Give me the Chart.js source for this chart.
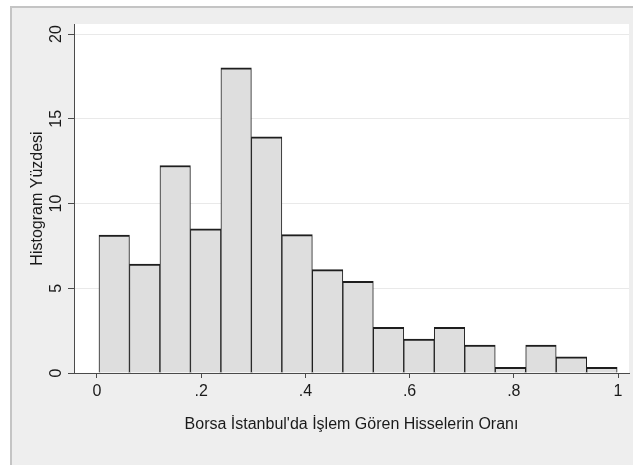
<!DOCTYPE html>
<html>
<head>
<meta charset="utf-8">
<script src="https://cdn.jsdelivr.net/npm/chart.js@4.4.1/dist/chart.umd.min.js"></script>
<style>
  html, body { margin: 0; padding: 0; background: #ffffff; }
  #wrap { width: 633px; height: 465px; }
</style>
</head>
<body>
<div id="wrap"><canvas id="histChart" width="633" height="465"></canvas></div>
<script>
// Histogram data (percent per bin)
const binStart = 0.0038;
const binWidth = 0.0585;
const percents = [8.14, 6.43, 12.24, 8.51, 18.0, 13.94, 8.16, 6.1, 5.41, 2.69, 2.0, 2.69, 1.65, 0.33, 1.65, 0.96, 0.33];
const binCenters = [0.0331, 0.0916, 0.1501, 0.2086, 0.2671, 0.3256, 0.3841, 0.4426, 0.5011, 0.5596, 0.6181, 0.6766, 0.7351, 0.7936, 0.8521, 0.9106, 0.9691];

const xTicks = [0, 0.2, 0.4, 0.6, 0.8, 1];
const xTickLabels = ["0", ".2", ".4", ".6", ".8", "1"];
const yTicks = [0, 5, 10, 15, 20];
const yTickLabels = ["0", "5", "10", "15", "20"];

const xTitle = "Borsa İstanbul'da İşlem Gören Hisselerin Oranı";
const yTitle = "Histogram Yüzdesi";

const FONT = "'Liberation Sans', Arial, sans-serif";
const TEXT_COLOR = "#1a1a1a";
const AXIS_COLOR = "#4a4a4a";

// Stata style background: grey graph region, white plot region
const backgroundPlugin = {
  id: "stataBackground",
  beforeDraw(chart) {
    const { ctx, chartArea, width, height } = chart;
    ctx.save();
    ctx.fillStyle = "#ffffff";
    ctx.fillRect(0, 0, width, height);
    ctx.fillStyle = "#eeeeee";
    ctx.fillRect(11, 7, width - 11, height - 7);
    ctx.strokeStyle = "#c4c4c4";
    ctx.lineWidth = 2;
    ctx.beginPath();
    ctx.moveTo(11, height);
    ctx.lineTo(11, 7);
    ctx.lineTo(width, 7);
    ctx.stroke();
    ctx.fillStyle = "#ffffff";
    ctx.fillRect(chartArea.left, chartArea.top, chartArea.right - chartArea.left, chartArea.bottom - chartArea.top);
    ctx.restore();
  },
};

// vertical y tick labels (read bottom to top)
const yLabelPlugin = {
  id: "yLabels",
  afterDraw(chart) {
    const { ctx } = chart;
    const yScale = chart.scales.y;
    ctx.save();
    ctx.fillStyle = TEXT_COLOR;
    ctx.font = "16px " + FONT;
    ctx.textAlign = "center";
    ctx.textBaseline = "alphabetic";
    yTicks.forEach((v, i) => {
      const py = yScale.getPixelForValue(v);
      ctx.save();
      ctx.translate(61, py);
      ctx.rotate(-Math.PI / 2);
      ctx.fillText(yTickLabels[i], 0, 0);
      ctx.restore();
    });
    ctx.restore();
  },
};

const ctx = document.getElementById("histChart");

new Chart(ctx, {
  type: "bar",
  data: {
    datasets: [
      {
        data: binCenters.map((x, i) => ({ x: x, y: percents[i] })),
        backgroundColor: "#dedede",
        borderColor: "#1e1e1e",
        borderWidth: { top: 2, left: 1, right: 1, bottom: 0 },
        borderSkipped: false,
        barPercentage: 1,
        categoryPercentage: 1,
      },
    ],
  },
  options: {
    responsive: false,
    animation: false,
    devicePixelRatio: 1,
    layout: {
      padding: { left: 0, right: 4, top: 24, bottom: 0 },
    },
    plugins: {
      legend: { display: false },
      tooltip: { enabled: false },
    },
    scales: {
      x: {
        type: "linear",
        offset: false,
        min: -0.0441,
        max: 1.0211,
        afterBuildTicks: (scale) => {
          scale.ticks = xTicks.map((v) => ({ value: v }));
        },
        afterFit: (scale) => {
          scale.height = 92;
        },
        ticks: {
          autoSkip: false,
          maxRotation: 0,
          padding: 4,
          color: TEXT_COLOR,
          font: { family: FONT, size: 16 },
          callback: (value) => xTickLabels[xTicks.indexOf(value)],
        },
        grid: {
          offset: false,
          drawOnChartArea: false,
          drawTicks: true,
          tickLength: 5,
          tickColor: AXIS_COLOR,
        },
        border: { color: AXIS_COLOR, width: 1 },
        title: {
          display: true,
          text: xTitle,
          color: TEXT_COLOR,
          font: { family: FONT, size: 16 },
          padding: { top: 0, bottom: 31 },
        },
      },
      y: {
        min: 0,
        max: 20.59,
        afterBuildTicks: (scale) => {
          scale.ticks = yTicks.map((v) => ({ value: v }));
        },
        afterFit: (scale) => {
          scale.width = 74;
        },
        ticks: { display: false },
        grid: {
          color: "#e9e9e9",
          lineWidth: 1,
          drawTicks: true,
          tickLength: 6,
          tickColor: AXIS_COLOR,
        },
        border: { color: AXIS_COLOR, width: 1 },
        title: {
          display: true,
          text: yTitle,
          color: TEXT_COLOR,
          font: { family: FONT, size: 16 },
          padding: { top: 28, bottom: 0 },
        },
      },
    },
  },
  plugins: [backgroundPlugin, yLabelPlugin],
});
</script>
</body>
</html>
